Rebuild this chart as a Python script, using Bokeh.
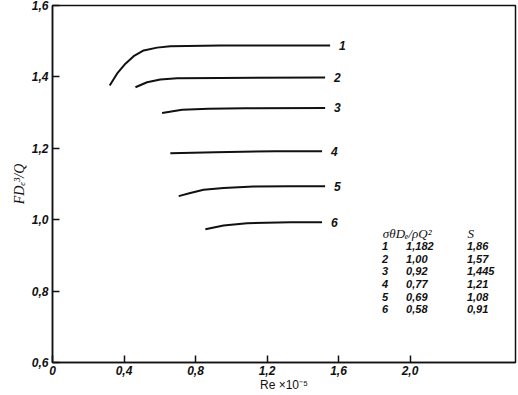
from bokeh.plotting import figure
from bokeh.models import FixedTicker, Label
from bokeh.core.properties import value
from bokeh.embed import file_html
from bokeh.resources import INLINE

# ---- data ----
re1 = [0.320, 0.361, 0.408, 0.454, 0.510, 0.585, 0.659, 0.939, 1.553]
f1 = [1.376, 1.409, 1.437, 1.458, 1.474, 1.482, 1.486, 1.488, 1.488]
re2 = [0.464, 0.529, 0.603, 0.697, 0.939, 1.525]
f2 = [1.371, 1.385, 1.393, 1.396, 1.397, 1.398]
re3 = [0.613, 0.725, 0.873, 1.078, 1.525]
f3 = [1.299, 1.308, 1.311, 1.312, 1.313]
re4 = [0.659, 0.911, 1.246, 1.508]
f4 = [1.186, 1.189, 1.192, 1.192]
re5 = [0.706, 0.771, 0.845, 0.957, 1.125, 1.330, 1.525]
f5 = [1.066, 1.075, 1.084, 1.089, 1.093, 1.094, 1.094]
re6 = [0.855, 0.957, 1.088, 1.330, 1.508]
f6 = [0.973, 0.984, 0.990, 0.993, 0.993]
curve_names = ["1", "2", "3", "4", "5", "6"]

table_index = ["1", "2", "3", "4", "5", "6"]
table_sigma = ["1,182", "1,00", "0,92", "0,77", "0,69", "0,58"]
table_S = ["1,86", "1,57", "1,445", "1,21", "1,08", "0,91"]

x_ticks = [0, 0.4, 0.8, 1.2, 1.6, 2.0]
x_tick_labels = ["0", "0,4", "0,8", "1,2", "1,6", "2,0"]
y_ticks = [0.6, 0.8, 1.0, 1.2, 1.4, 1.6]
y_tick_labels = ["0,6", "0,8", "1,0", "1,2", "1,4", "1,6"]

FONT = "Liberation Sans"
INK = "#111111"
STYLE = "bold italic"

p = figure(width=518, height=395, x_range=(0, 2.59), y_range=(0.6, 1.6),
           output_backend="svg", toolbar_location=None,
           min_border_left=52, min_border_right=3, min_border_top=5,
           min_border_bottom=33)
p.background_fill_color = "white"
p.border_fill_color = "white"
p.outline_line_color = INK
p.outline_line_width = 1.5
p.grid.visible = False

for ax, ticks, labels in ((p.xaxis[0], x_ticks, x_tick_labels),
                          (p.yaxis[0], y_ticks, y_tick_labels)):
    ax.ticker = FixedTicker(ticks=ticks)
    ax.major_label_overrides = {t: l for t, l in zip(ticks, labels)}
    ax.minor_tick_line_color = None
    ax.major_tick_in = 7
    ax.major_tick_out = 0
    ax.major_tick_line_color = INK
    ax.major_tick_line_width = 1.5
    ax.axis_line_color = INK
    ax.axis_line_width = 1.5
    ax.major_label_text_font = FONT
    ax.major_label_text_font_style = STYLE
    ax.major_label_text_font_size = "12px"
    ax.major_label_text_color = INK

p.xaxis.major_label_standoff = 3
p.yaxis.major_label_standoff = 4
p.xaxis.axis_label = "Re ×10⁻⁵"
p.xaxis.axis_label_text_font = FONT
p.xaxis.axis_label_text_font_style = "normal"
p.xaxis.axis_label_text_font_size = "12px"
p.xaxis.axis_label_text_color = INK
p.xaxis.axis_label_standoff = 0
p.yaxis.axis_label = "FDₑ³/Q"
p.yaxis.axis_label_text_font = "Liberation Serif"
p.yaxis.axis_label_text_font_style = "italic"
p.yaxis.axis_label_text_font_size = "14px"
p.yaxis.axis_label_text_color = INK
p.yaxis.axis_label_standoff = 2

curves = [(re1, f1), (re2, f2), (re3, f3), (re4, f4), (re5, f5), (re6, f6)]
for (xs, ys), name in zip(curves, curve_names):
    p.line(xs, ys, line_color=INK, line_width=2)
    p.text(x=[xs[-1]], y=[ys[-1]], text=[name], x_offset=9,
           text_align="left", text_baseline="middle",
           text_font=value(FONT), text_font_style=STYLE,
           text_font_size="12px", text_color=INK)

# table
col_idx, col_sig, col_s = 1.86, 1.978, 2.318
y_head, dy = 0.961, 0.0353
p.add_layout(Label(x=1.848, y=y_head, text="σθDₑ/ρQ²", text_align="left",
                   text_baseline="middle", text_font="Liberation Serif",
                   text_font_style="italic", text_font_size="13px",
                   text_color=INK))
p.add_layout(Label(x=col_s + 0.004, y=y_head, text="S", text_align="left",
                   text_baseline="middle", text_font="Liberation Serif",
                   text_font_style="italic", text_font_size="13px",
                   text_color=INK))
for i, (a, b, c) in enumerate(zip(table_index, table_sigma, table_S)):
    yy = y_head - (i + 1) * dy
    for xx, t, al in ((col_idx, a, "center"), (col_sig, b, "left"), (col_s, c, "left")):
        p.add_layout(Label(x=xx, y=yy, text=t, text_align=al,
                           text_baseline="middle", text_font=FONT,
                           text_font_style=STYLE, text_font_size="11px",
                           text_color=INK))

open("out.html", "w").write(file_html(p, INLINE))
